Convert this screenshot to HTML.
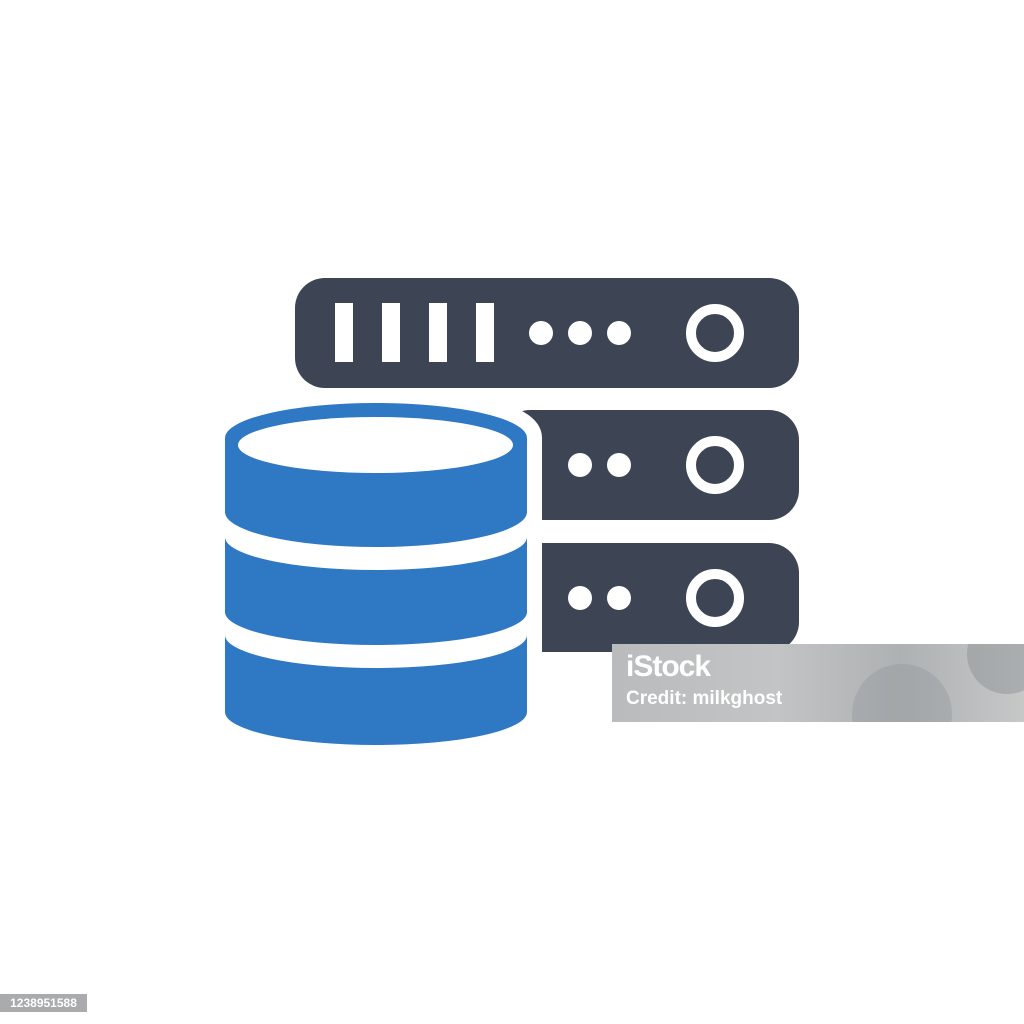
<!DOCTYPE html>
<html><head><style>
html,body{margin:0;padding:0;background:#fff;}
.wrap{position:relative;width:1024px;height:1024px;overflow:hidden;background:#fff;}
svg{position:absolute;left:0;top:0;}
.wm{position:absolute;left:612px;top:644px;width:412px;height:78px;overflow:hidden;background:linear-gradient(90deg,#b9bbbc,#c2c4c5 40%,#aeb1b2 70%,#c6c8c8);}
.wm .c1{position:absolute;left:240px;top:20px;width:100px;height:100px;border-radius:50%;background:rgba(140,145,148,0.35);}
.wm .c2{position:absolute;left:355px;top:-30px;width:80px;height:80px;border-radius:50%;background:rgba(130,135,138,0.4);}
.wm .t1{position:absolute;left:14px;top:6px;font:bold 30px "Liberation Sans",sans-serif;color:#fff;letter-spacing:-1px;}
.wm .t2{position:absolute;left:14px;top:44px;font:bold 19px "Liberation Sans",sans-serif;color:#fff;}
.id{position:absolute;left:0;top:994px;width:87px;height:18px;background:#a9abad;color:#fff;font:bold 12px "Liberation Sans",sans-serif;line-height:18px;text-align:center;}
</style></head><body><div class="wrap">
<svg width="1024" height="1024" viewBox="0 0 1024 1024">
<g fill="#3d4555">
<rect x="295" y="278" width="504" height="110" rx="30"/>
<rect x="500" y="410" width="299" height="110" rx="30"/>
<rect x="500" y="543" width="299" height="109" rx="30"/>
</g>
<g fill="#fff">
<rect x="335" y="303" width="18" height="59"/>
<rect x="382" y="303" width="18" height="59"/>
<rect x="429" y="303" width="18" height="59"/>
<rect x="476" y="303" width="18" height="59"/>
<circle cx="541" cy="333" r="12"/><circle cx="580" cy="333" r="12"/><circle cx="619" cy="333" r="12"/>
<circle cx="580" cy="465" r="12"/><circle cx="619" cy="465" r="12"/>
<circle cx="580" cy="598" r="12"/><circle cx="619" cy="598" r="12"/>
</g>
<g fill="none" stroke="#fff" stroke-width="10">
<circle cx="715" cy="333" r="24"/><circle cx="715" cy="465" r="24"/><circle cx="715" cy="598" r="24"/>
</g>
<path d="M225,438 A151,35 0 0 1 527,438 L527,712 A151,33 0 0 1 225,712 Z" fill="#fff" stroke="#fff" stroke-width="30" stroke-linejoin="round"/>
<g fill="#2e78c4">
<path d="M225,438 A151,35 0 0 1 527,438 L527,512 A151,35 0 0 1 225,512 Z"/>
<path d="M225,537 A151,33 0 0 0 527,537 L527,612 A151,33 0 0 1 225,612 Z"/>
<path d="M225,635 A151,33 0 0 0 527,635 L527,712 A151,33 0 0 1 225,712 Z"/>
</g>
<ellipse cx="375.5" cy="445" rx="137.5" ry="28" fill="#fff"/>
</svg>
<div class="wm"><div class="c1"></div><div class="c2"></div><div class="t1">iStock</div><div class="t2">Credit: milkghost</div></div>
<div class="id">1238951588</div>
</div></body></html>
